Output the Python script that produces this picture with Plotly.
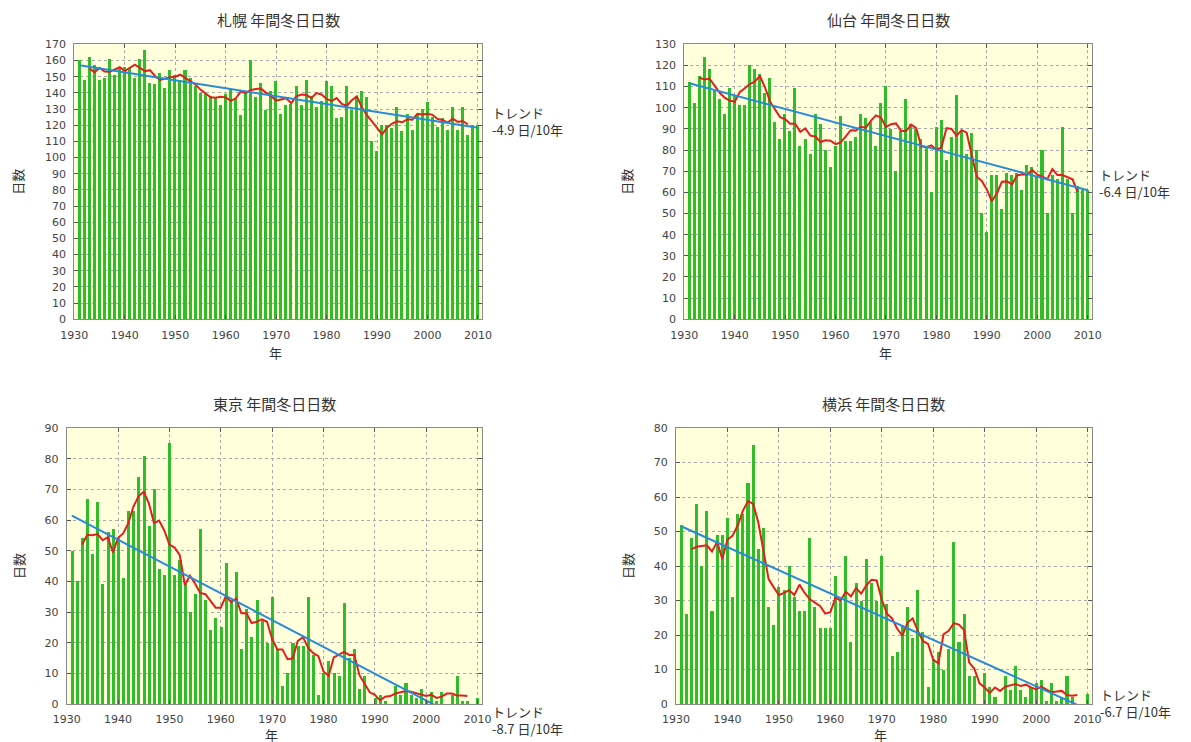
import numpy as np
import plotly.graph_objects as go

# ---------------- data ----------------
years = list(range(1931, 2011))

sapporo = [160, 148, 162, 157, 148, 149, 161, 151, 156, 156,
           155, 149, 161, 166, 146, 145, 152, 143, 154, 151,
           148, 154, 149, 144, 140, 139, 138, 137, 132, 139,
           142, 136, 126, 140, 160, 137, 146, 129, 141, 147,
           127, 132, 133, 144, 132, 148, 138, 131, 135, 147,
           144, 124, 125, 144, 129, 138, 141, 137, 110, 104,
           120, 120, 118, 131, 116, 127, 117, 127, 130, 134,
           125, 119, 124, 117, 131, 117, 131, 114, 120, 120]

sendai = [112, 102, 115, 124, 118, 108, 104, 97, 109, 106,
          101, 101, 120, 118, 116, 107, 114, 93, 85, 97,
          89, 109, 82, 85, 78, 97, 92, 80, 72, 82,
          96, 84, 84, 86, 97, 95, 93, 82, 102, 110,
          90, 70, 89, 104, 92, 90, 85, 81, 60, 91,
          94, 75, 86, 106, 89, 78, 88, 80, 50, 41,
          68, 68, 52, 69, 68, 69, 61, 73, 72, 67,
          80, 50, 68, 66, 91, 66, 50, 63, 61, 61]

tokyo = [50, 40, 54, 67, 49, 66, 39, 56, 57, 54,
         41, 63, 63, 74, 81, 58, 70, 44, 42, 85,
         42, 47, 39, 30, 36, 57, 34, 24, 28, 25,
         46, 34, 43, 18, 31, 22, 34, 27, 20, 35,
         18, 6, 10, 20, 19, 19, 35, 16, 3, 10,
         14, 10, 9, 33, 15, 18, 5, 9, 0, 2,
         3, 1, 0, 6, 3, 7, 3, 2, 5, 1,
         4, 1, 4, 0, 3, 9, 1, 1, 0, 2]

yokohama = [52, 26, 48, 58, 40, 56, 27, 49, 49, 54,
            31, 55, 55, 64, 75, 45, 51, 28, 23, 34,
            33, 40, 31, 27, 27, 48, 28, 22, 22, 22,
            37, 30, 43, 18, 35, 30, 42, 35, 30, 43,
            29, 14, 15, 23, 28, 19, 33, 21, 5, 13,
            15, 10, 16, 47, 18, 26, 8, 8, 0, 9,
            5, 2, 0, 8, 4, 11, 4, 2, 5, 6,
            7, 1, 6, 1, 2, 8, 2, 0, 0, 3]

titles = ["札幌 年間冬日日数", "仙台 年間冬日日数", "東京 年間冬日日数", "横浜 年間冬日日数"]
trend_texts = ["-4.9 日/10年", "-6.4 日/10年", "-8.7 日/10年", "-6.7 日/10年"]
y_max = [170, 130, 90, 80]
x_ticks = [1930, 1940, 1950, 1960, 1970, 1980, 1990, 2000, 2010]
x_label = "年"
y_label = "日数"
trend_word = "トレンド"

# ---------------- layout geometry (pixels in the screenshot) ----------------
W, H = 1191, 742
OFF = 8  # page body margin of the browser
boxes = [(74.3, 482.0, 44.3, 319.3),
         (684.3, 1091.7, 44.3, 319.3),
         (66.7, 481.7, 428.0, 704.0),
         (676.0, 1091.7, 428.0, 704.0)]
ylab_x = [18, 627, 18, 627]
xlab_dy = [33, 33, 30, 30]
trend_dx = [8, 5, 8, 6]


def px(x):
    return (x - OFF) / W


def py(y):
    return 1 - (y - OFF) / H


GREEN = "#30bc2b"
RED = "#e0201c"
BLUE = "#2a8ad8"
BG = "#ffffdc"
TXT = "#333333"
CJK = "Noto Sans CJK JP"

fig = go.Figure()
series = [sapporo, sendai, tokyo, yokohama]
yrs = np.array(years, dtype=float)

annotations = []
for i, vals in enumerate(series):
    n = i + 1
    xa = "x" if n == 1 else f"x{n}"
    ya = "y" if n == 1 else f"y{n}"
    v = np.array(vals, dtype=float)

    fig.add_trace(go.Bar(x=years, y=vals, width=0.6,
                         marker=dict(color=GREEN, line=dict(width=0)),
                         xaxis=xa, yaxis=ya, showlegend=False))

    # 5-year centred running mean
    ma = np.convolve(v, np.ones(5) / 5, mode="valid")
    fig.add_trace(go.Scatter(x=years[2:-2], y=ma, mode="lines",
                             line=dict(color=RED, width=2),
                             xaxis=xa, yaxis=ya, showlegend=False))

    # linear trend
    slope, icpt = np.polyfit(yrs, v, 1)
    tx = [years[0], years[-1]]
    ty = [slope * t + icpt for t in tx]
    fig.add_trace(go.Scatter(x=tx, y=ty, mode="lines",
                             line=dict(color=BLUE, width=2),
                             xaxis=xa, yaxis=ya, showlegend=False))

    l, r, t, b = boxes[i]
    common = dict(showgrid=True, gridcolor="#a8a8a8", griddash="dot", gridwidth=1,
                  showline=True, linecolor="#8a8a8a", linewidth=1, mirror="ticks",
                  ticks="inside", ticklen=4, tickcolor="#555555", zeroline=False,
                  tickfont=dict(family="DejaVu Sans", size=11, color="#444444"),
                  automargin=False, fixedrange=True)
    axx = dict(domain=[px(l), px(r)], range=[1930, 2010.8], tickvals=x_ticks,
               anchor=ya, ticklabelstandoff=5, **common)
    axy = dict(domain=[py(b), py(t)], range=[0, y_max[i]], dtick=10,
               anchor=xa, ticklabelstandoff=5, **common)
    key = "" if n == 1 else str(n)
    fig.update_layout(**{f"xaxis{key}": axx, f"yaxis{key}": axy})

    cx = (l + r) / 2
    # title
    annotations.append(dict(text=titles[i], x=px(cx), y=py(t - 25), xref="paper",
                            yref="paper", showarrow=False, xanchor="center",
                            yanchor="middle",
                            font=dict(family=CJK, size=15, color=TXT)))
    # x label
    annotations.append(dict(text=x_label, x=px(cx - 3), y=py(b + xlab_dy[i]),
                            xref="paper", yref="paper", showarrow=False,
                            xanchor="center", yanchor="middle",
                            font=dict(family=CJK, size=13, color=TXT)))
    # y label
    annotations.append(dict(text=y_label, x=px(ylab_x[i]), y=py((t + b) / 2),
                            xref="paper", yref="paper", showarrow=False,
                            xanchor="center", yanchor="middle", textangle=-90,
                            font=dict(family=CJK, size=13, color=TXT)))
    # trend label: second line level with the trend value at the last year
    end_val = slope * years[-1] + icpt
    end_py = b - end_val / y_max[i] * (b - t)
    annotations.append(dict(text=f"{trend_word}<br>{trend_texts[i]}",
                            x=px(r + trend_dx[i]), y=py(end_py - 7),
                            xref="paper", yref="paper", showarrow=False,
                            xanchor="left", yanchor="middle", align="left",
                            font=dict(family=CJK, size=13, color=TXT)))

fig.update_layout(width=W, height=H, margin=dict(l=0, r=0, t=0, b=0),
                  paper_bgcolor="white", plot_bgcolor=BG, bargap=0,
                  annotations=annotations, showlegend=False)

fig.write_html("out.html")
